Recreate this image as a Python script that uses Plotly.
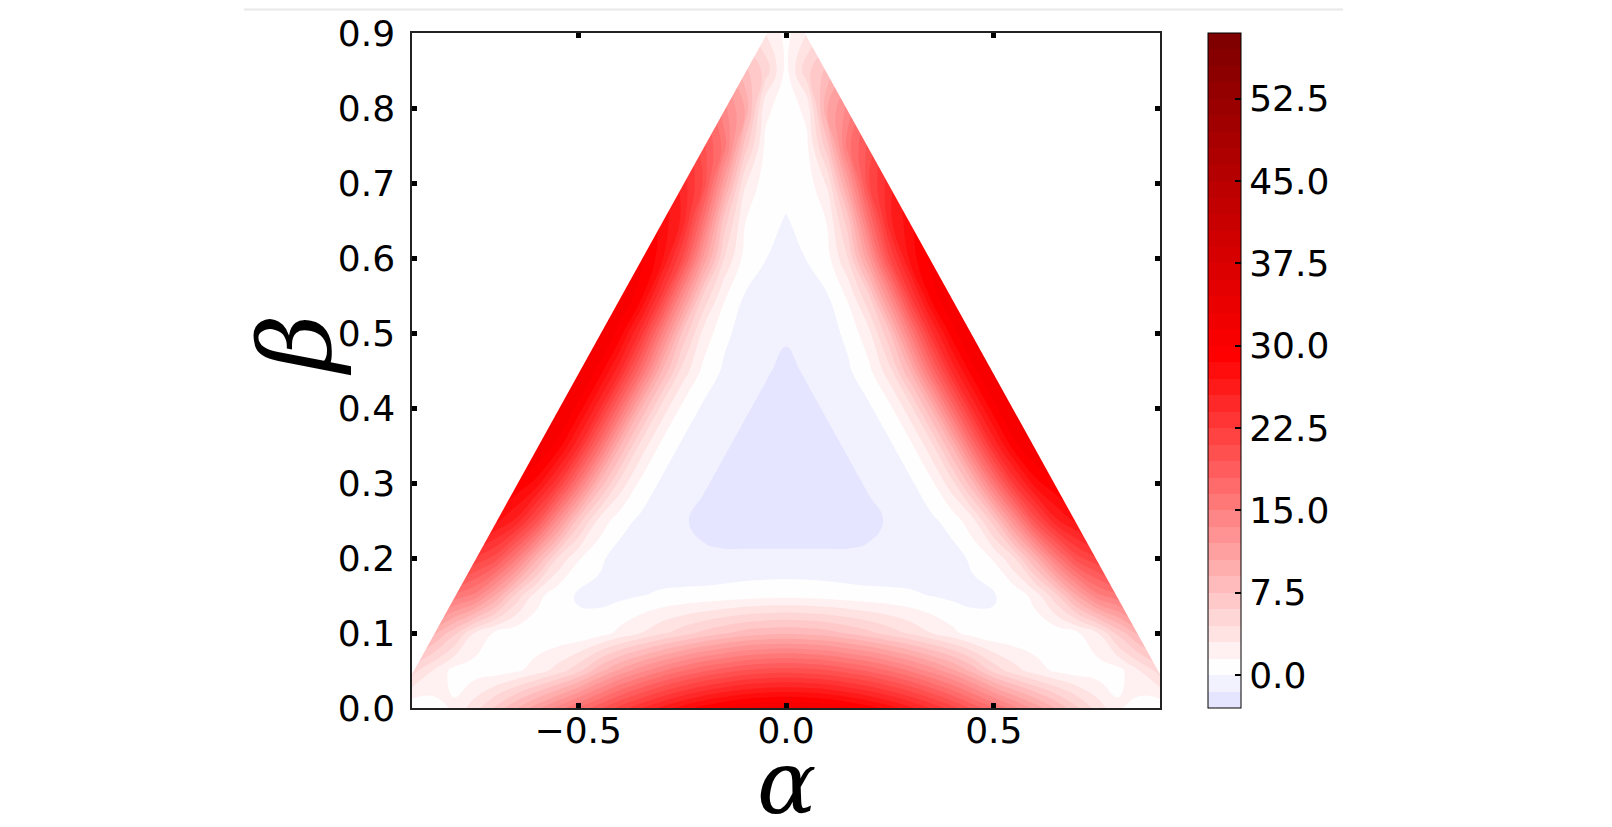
import plotly.graph_objects as go

# ---------------- data ----------------
# grid of alpha (x) for the right half; the map is mirror-symmetric in alpha
alpha_half = [0.0, 0.05, 0.1, 0.15, 0.2, 0.25, 0.3, 0.35, 0.4, 0.45,
              0.5, 0.55, 0.6, 0.65, 0.7, 0.75, 0.8, 0.85, 0.9]
beta_rows = [0.0, 0.05, 0.1, 0.15, 0.2, 0.25, 0.3, 0.35, 0.4, 0.45,
             0.5, 0.55, 0.6, 0.65, 0.7, 0.75, 0.8, 0.85, 0.9]

# estimated values along each beta row, alpha = 0 ... 0.9
f_b00 = [32.0, 31.8, 31.3, 30.4, 29.2, 27.7, 25.9, 23.8, 21.6, 19.1, 16.6, 14.0, 11.4, 8.9, 6.3, 3.8, 1.7, 0.8, 0.3]
f_b05 = [20.3, 20.1, 19.6, 18.7, 17.7, 16.3, 14.7, 12.9, 10.9, 8.4, 5.5, 3.6, 2.2, 1.2, 0.7, 0.7, 1.0, 3.0, 5.2]
f_b10 = [8.7, 8.5, 8.1, 7.3, 6.4, 5.3, 4.2, 3.0, 1.9, 0.8, 0.27, 0.3, 0.4, 0.6, 1.2, 3.0, 6.5, 9.5, 11.0]
f_b15 = [1.0, 0.95, 0.8, 0.6, 0.45, 0.35, 0.2, -0.05, -0.35, -0.4, -0.1, 0.44, 2.15, 5.6, 10.4, 14.6, 16.2, 19.0, 21.0]
f_b20 = [-1.3, -1.3, -1.3, -1.3, -1.3, -1.2, -1.0, -0.9, -0.6, 0.3, 1.69, 4.5, 9.5, 15.5, 20.4, 22.5, 26.0, 28.0, 30.0]
f_b25 = [-2.12, -2.12, -2.12, -2.1, -1.77, -1.37, -0.93, -0.3, 0.6, 2.6, 6.8, 13.3, 20.2, 25.2, 27.5, 30.0, 32.0, 33.0, 34.0]
f_b30 = [-2.45, -2.37, -2.1, -1.77, -1.37, -0.93, -0.22, 1.15, 4.0, 8.8, 16.0, 23.0, 27.9, 30.0, 33.0, 34.0, 35.0, 35.0, 35.0]
f_b35 = [-2.36, -2.1, -1.77, -1.37, -0.93, -0.22, 1.15, 4.0, 9.2, 17.0, 24.4, 29.6, 32.0, 34.0, 35.0, 35.0, 35.0, 35.0, 35.0]
f_b40 = [-2.1, -1.77, -1.37, -0.93, -0.22, 1.15, 4.0, 9.2, 17.0, 24.4, 29.6, 32.0, 34.0, 35.0, 35.0, 35.0, 35.0, 35.0, 35.0]
f_b45 = [-1.77, -1.37, -0.93, -0.22, 1.15, 4.0, 9.2, 17.0, 24.4, 29.6, 32.0, 34.0, 35.0, 35.0, 35.0, 35.0, 35.0, 35.0, 35.0]
f_b50 = [-1.35, -1.2, -0.64, 0.4, 2.6, 7.4, 15.3, 23.5, 29.4, 32.0, 34.0, 35.0, 35.0, 35.0, 35.0, 35.0, 35.0, 35.0, 35.0]
f_b55 = [-0.95, -0.7, -0.05, 1.8, 6.0, 13.8, 22.6, 29.3, 31.5, 34.0, 35.0, 35.0, 35.0, 35.0, 35.0, 35.0, 35.0, 35.0, 35.0]
f_b60 = [-0.5, 0.05, 1.0, 4.6, 11.9, 21.0, 27.7, 30.5, 33.0, 34.0, 35.0, 35.0, 35.0, 35.0, 35.0, 35.0, 35.0, 35.0, 35.0]
f_b65 = [-0.1, 0.5, 1.6, 7.0, 16.6, 25.2, 28.0, 31.0, 33.0, 34.0, 35.0, 35.0, 35.0, 35.0, 35.0, 35.0, 35.0, 35.0, 35.0]
f_b70 = [0.5, 0.6, 3.3, 11.5, 20.9, 25.0, 28.0, 31.0, 33.0, 34.0, 35.0, 35.0, 35.0, 35.0, 35.0, 35.0, 35.0, 35.0, 35.0]
f_b75 = [0.5, 1.2, 7.1, 16.0, 20.0, 24.0, 28.0, 31.0, 33.0, 34.0, 35.0, 35.0, 35.0, 35.0, 35.0, 35.0, 35.0, 35.0, 35.0]
f_b80 = [0.7, 1.9, 10.5, 14.0, 18.0, 22.0, 26.0, 29.0, 31.0, 33.0, 34.0, 35.0, 35.0, 35.0, 35.0, 35.0, 35.0, 35.0, 35.0]
f_b85 = [1.0, 5.5, 8.0, 11.0, 15.0, 19.0, 23.0, 26.0, 29.0, 31.0, 33.0, 34.0, 35.0, 35.0, 35.0, 35.0, 35.0, 35.0, 35.0]
f_b90 = [1.0, 3.0, 5.0, 8.0, 11.0, 15.0, 19.0, 23.0, 26.0, 29.0, 31.0, 33.0, 34.0, 35.0, 35.0, 35.0, 35.0, 35.0, 35.0]

# admissible region: |alpha| + beta <= domain_limit
domain_limit = 0.945

level_start, level_end, level_step = -3.0, 58.5, 1.5
cbar_ticks = [0.0, 7.5, 15.0, 22.5, 30.0, 37.5, 45.0, 52.5]
x_ticks = [-0.5, 0.0, 0.5]
y_ticks = [0.0, 0.1, 0.2, 0.3, 0.4, 0.5, 0.6, 0.7, 0.8, 0.9]

# ---------------- build table ----------------
half_rows = [f_b00, f_b05, f_b10, f_b15, f_b20, f_b25, f_b30, f_b35, f_b40, f_b45,
             f_b50, f_b55, f_b60, f_b65, f_b70, f_b75, f_b80, f_b85, f_b90]
alpha_full = [-a for a in reversed(alpha_half[1:])] + alpha_half
z = [list(reversed(r[1:])) + r for r in half_rows]

# matplotlib "seismic" colormap with a symmetric norm (+-58.5),
# expressed over the plotly contour colour domain [start - step/2, end + step/2]
vmax = 58.5
c_lo = level_start - level_step / 2
c_hi = level_end + level_step / 2


def seismic(v):
    t = (v + vmax) / (2 * vmax)
    t = min(max(t, 0.0), 1.0)
    if t <= 0.25:
        f = t / 0.25
        rgb = (0.0, 0.0, 0.3 + 0.7 * f)
    elif t <= 0.5:
        f = (t - 0.25) / 0.25
        rgb = (f, f, 1.0)
    elif t <= 0.75:
        f = (t - 0.5) / 0.25
        rgb = (1.0, 1.0 - f, 1.0 - f)
    else:
        f = (t - 0.75) / 0.25
        rgb = (1.0 - 0.5 * f, 0.0, 0.0)
    return "rgb(%d,%d,%d)" % tuple(round(255 * c) for c in rgb)


cs_values = [c_lo, 0.0, vmax / 2, vmax, c_hi]
colorscale = [[(v - c_lo) / (c_hi - c_lo), seismic(v)] for v in cs_values]

tick_font = dict(family="DejaVu Sans", size=36, color="black")

fig = go.Figure()
fig.add_trace(go.Contour(
    x=alpha_full, y=beta_rows, z=z,
    autocontour=False,
    contours=dict(start=level_start, end=level_end, size=level_step,
                  coloring="fill", showlines=False),
    line=dict(width=0, smoothing=1.3),
    colorscale=colorscale,
    zmin=level_start, zmax=level_end,
    hoverinfo="skip",
    colorbar=dict(
        thickness=33, len=1, lenmode="fraction", y=0.5, yanchor="middle",
        x=1.064, xanchor="left", xpad=0, ypad=0,
        outlinewidth=1, outlinecolor="black",
        tickvals=cbar_ticks, ticktext=["%.1f" % t for t in cbar_ticks],
        ticks="inside", ticklen=6, tickwidth=1.5, tickcolor="black",
        tickfont=tick_font,
    ),
))

# white masks outside the admissible triangle
for side in (-1, 1):
    fig.add_trace(go.Scatter(
        x=[side * 1.0, 0.0, side * 1.0],
        y=[domain_limit - 1.0, domain_limit, domain_limit],
        mode="lines", fill="toself", fillcolor="white",
        line=dict(width=0, color="white"),
        hoverinfo="skip", showlegend=False,
    ))

axis_common = dict(
    showgrid=False, zeroline=False, showline=True, linecolor="#222",
    linewidth=1.5, mirror="ticks", ticks="inside", ticklen=5, tickwidth=5,
    tickcolor="black", tickfont=tick_font, automargin=False,
)
fig.update_xaxes(range=[-0.9, 0.9], tickvals=x_ticks,
                 ticktext=[("\u2212%.1f" % abs(t)) if t < 0 else "%.1f" % t for t in x_ticks],
                 ticklabelstandoff=-10,
                 **axis_common)
fig.update_yaxes(range=[0, 0.9], tickvals=y_ticks,
                 ticktext=["%.1f" % t for t in y_ticks], ticklabelstandoff=8,
                 **axis_common)

fig.update_layout(
    width=1604, height=819,
    margin=dict(l=404, r=452, t=25, b=119, autoexpand=False),
    paper_bgcolor="white", plot_bgcolor="white",
    showlegend=False,
    annotations=[
        dict(text="<i>α</i>", x=0.0, xref="x", y=-0.11, yref="paper",
             xanchor="center", yanchor="middle", showarrow=False,
             font=dict(family="DejaVu Serif", size=88, color="black")),
        dict(text="<i>β</i>", x=-0.155, xref="paper", y=0.538, yref="paper",
             xanchor="center", yanchor="middle", showarrow=False, textangle=-90,
             font=dict(family="DejaVu Serif", size=100, color="black")),
    ],
    shapes=[dict(type="line", xref="paper", yref="paper",
                 x0=-0.2246, x1=1.2447, y0=1.035, y1=1.035,
                 line=dict(color="#e8e8e8", width=2))],
)

fig.write_html("out.html")
